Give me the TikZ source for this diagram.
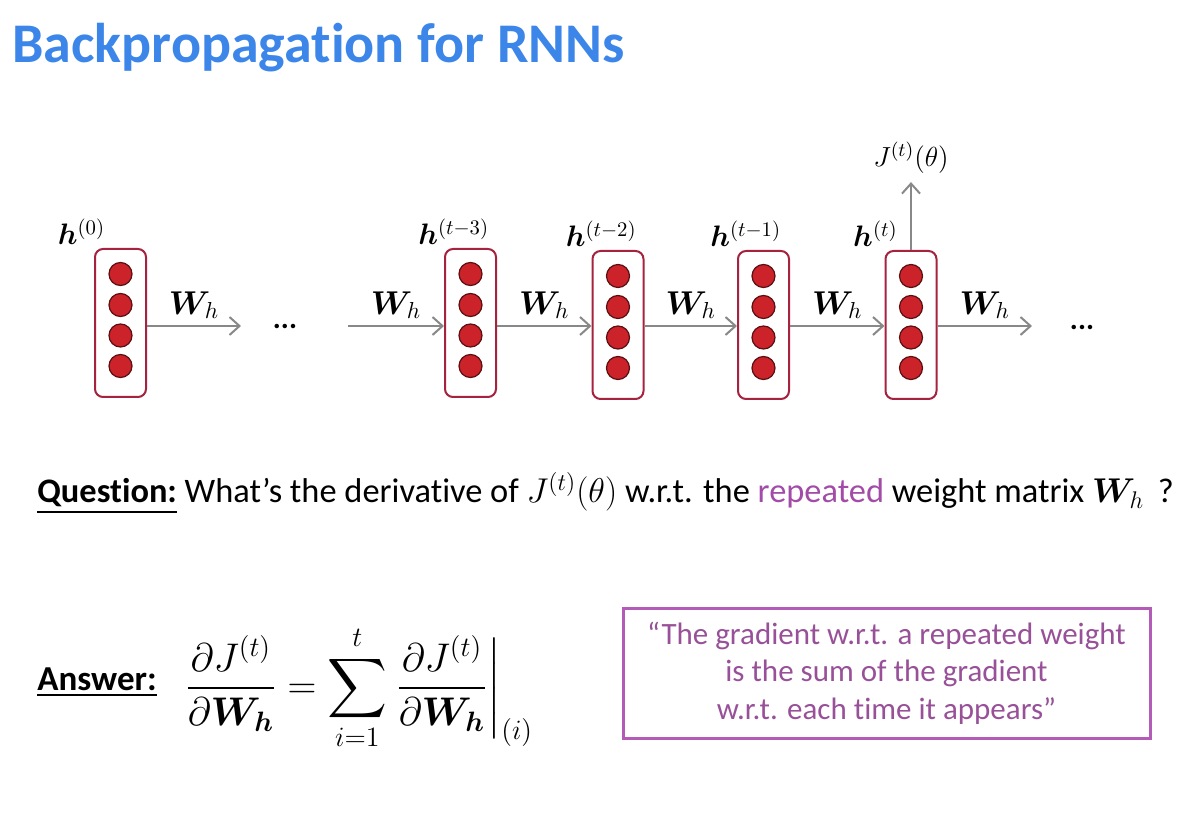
\documentclass[tikz,border=0pt]{standalone}
\usepackage{fix-cm}
\usepackage{amsmath,bm}
\usepackage{fontspec}
\setmainfont{Carlito}[Ligatures=NoCommon]
\usepackage{color}
\definecolor{myblue}{RGB}{59,134,232}
\definecolor{myred}{RGB}{204,34,41}
\definecolor{mydarkred}{RGB}{90,15,18}
\definecolor{myframe}{RGB}{165,35,62}
\definecolor{mygray}{RGB}{136,136,136}
\definecolor{mypurple}{RGB}{162,76,168}
\definecolor{myquote}{RGB}{152,81,152}
\definecolor{myborder}{RGB}{180,90,184}
\usetikzlibrary{arrows.meta,positioning,calc}

\begin{document}
\begin{tikzpicture}[
  x=0.5pt, y=-0.5pt,
  hidden/.style={
    draw=myframe,
    line width=1pt,
    rounded corners=4pt,
    fill=white,
    minimum width=25.5pt,
    minimum height=74pt,
    inner sep=0pt
    },
  unit/.style={
    circle,
    draw=mydarkred,
    fill=myred,
    line width=0.6pt,
    minimum size=11.5pt,
    inner sep=0pt
    },
  link/.style={
    draw=mygray,
    line width=1pt,
    -{Straight Barb[length=5pt,width=9pt]}
    },
  hlabel/.style={font=\fontsize{14.8}{17}\selectfont, inner sep=0pt, anchor=base east},
  wlabel/.style={font=\fontsize{16.5}{19}\selectfont, above, inner sep=3pt},
  dots/.style={font=\fontsize{15}{18}\selectfont\bfseries, anchor=base, inner sep=0pt}
]
\useasboundingbox (0,0) rectangle (1200,828);

% title
\node[anchor=base west, inner sep=0pt, text=myblue, font=\fontsize{28}{32}\selectfont\bfseries]
  (title) at (12,63) {Backpropagation for RNNs};

% hidden states
\node[hidden] (h0) at (120.5,323) {};
\node[hidden] (h3) at (470.5,323) {};
\node[hidden] (h2) at (618,325) {};
\node[hidden] (h1) at (763.5,325) {};
\node[hidden] (ht) at (911,325) {};
\foreach \State in {h0,h3,h2,h1,ht}
  \foreach \Dy [count=\k from 1] in {-49,-18,12.5,43}
    \node[unit] (\State-\k) at ($(\State)+(0,\Dy)$) {};

\node[hlabel] (l0) at ($(h0.north)+(-15,-3)$) {$\bm{h}^{(0)}$};
\node[hlabel] (l3) at ($(h3.north)+(19,-3)$) {$\bm{h}^{(t-3)}$};
\node[hlabel] (l2) at ($(h2.north)+(19,-3)$) {$\bm{h}^{(t-2)}$};
\node[hlabel] (l1) at ($(h1.north)+(18,-3)$) {$\bm{h}^{(t-1)}$};
\node[hlabel] (lt) at ($(ht.north)+(-13,-3)$) {$\bm{h}^{(t)}$};

% recurrent links
\coordinate (e0) at (241,326);
\coordinate (s3) at (348,326);
\coordinate (et) at (1032,326);
\node[dots] (dots1) at (285,329) {...};
\node[dots] (dots2) at (1082,330) {...};

\draw[link] (h0.east |- e0) -- node[wlabel] {$\bm{W}_h$} (e0);
\draw[link] (s3) -- node[wlabel] {$\bm{W}_h$} (s3 -| h3.west);
\draw[link] (s3 -| h3.east) -- node[wlabel] {$\bm{W}_h$} (s3 -| h2.west);
\draw[link] (s3 -| h2.east) -- node[wlabel] {$\bm{W}_h$} (s3 -| h1.west);
\draw[link] (s3 -| h1.east) -- node[wlabel] {$\bm{W}_h$} (s3 -| ht.west);
\draw[link] (s3 -| ht.east) -- node[wlabel] {$\bm{W}_h$} (et);

% loss
\node[font=\fontsize{13.8}{16}\selectfont, inner sep=4pt] (J) at (911,158) {$J^{(t)}(\theta)$};
\draw[link] (ht.north) -- (J.south);

% question
\node[anchor=base west, inner sep=0pt, font=\fontsize{17.2}{20}\selectfont]
  (question) at (37,503)
  {\underline{\textbf{Question:}} What’s the derivative of $J^{(t)}(\theta)$ w.r.t. the \textcolor{mypurple}{repeated} weight matrix $\bm{W}_h$ \,?};

% answer
\node[anchor=base west, inner sep=0pt, font=\fontsize{17.5}{20}\selectfont]
  (answer) at (37,690) {\underline{\textbf{Answer:}}};
\node[anchor=west, inner sep=0pt, font=\fontsize{20}{24}\selectfont] (formula) at (185,688)
  {$\displaystyle \frac{\partial J^{(t)}}{\partial \bm{W_h}} = \sum_{i=1}^{t} \left.\frac{\partial J^{(t)}}{\partial \bm{W_h}}\right|_{(i)}$};

% quote
\node[draw=myborder, line width=1.5pt, minimum width=263.5pt, minimum height=65pt,
  text=myquote, align=center, font=\fontsize{15.5}{18.75}\selectfont]
  (quote) at (886.5,673)
  {“The gradient w.r.t. a repeated weight\\ is the sum of the gradient\\ w.r.t. each time it appears”};
\end{tikzpicture}
\end{document}
